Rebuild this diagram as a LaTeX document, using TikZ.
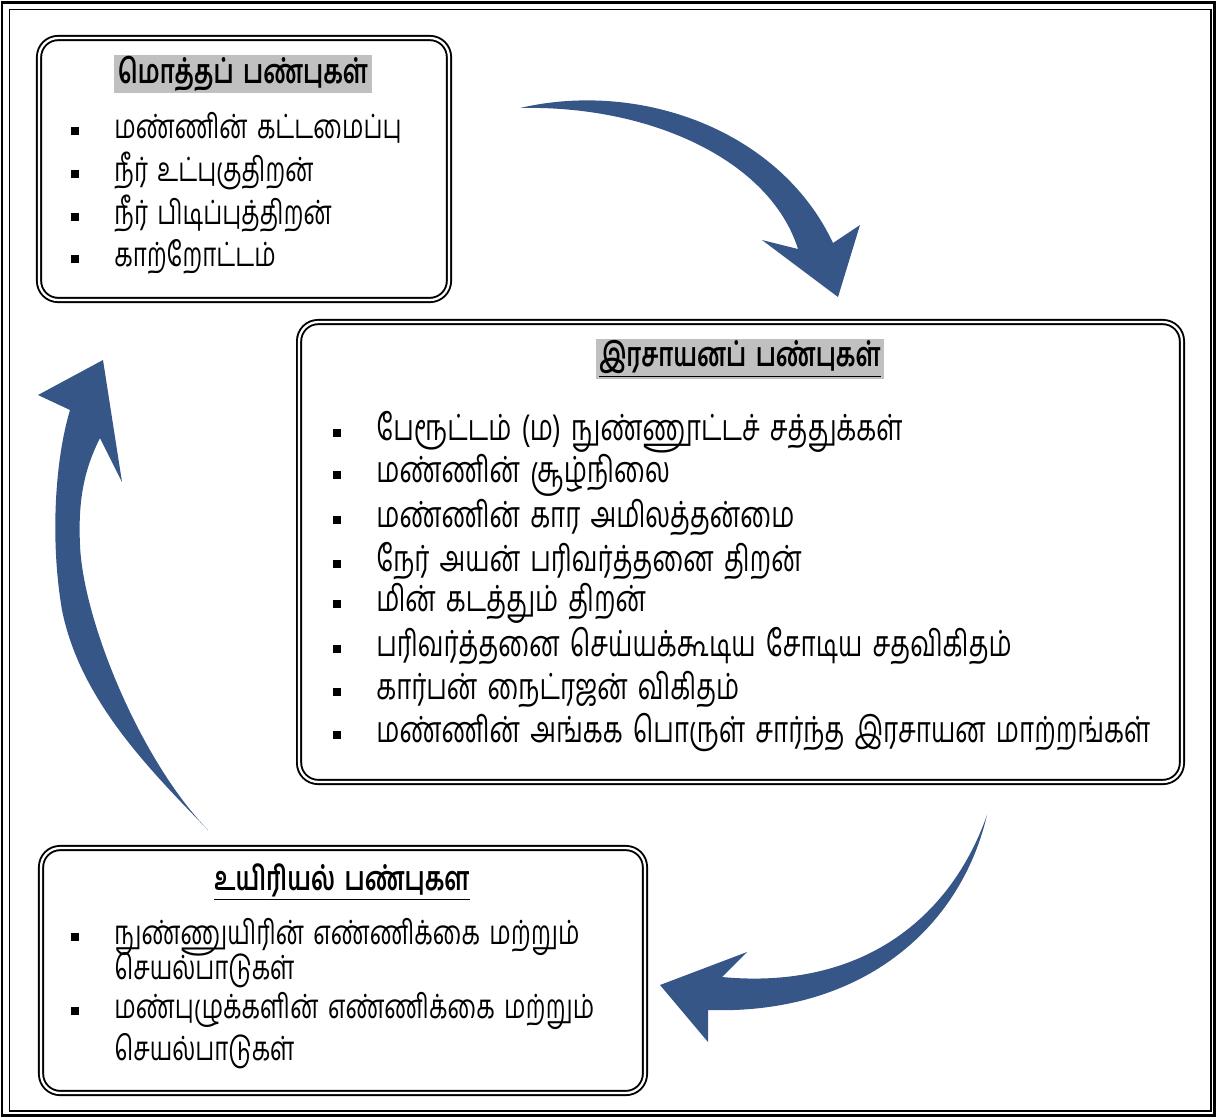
\documentclass[tikz,border=0pt]{standalone}
\usepackage{fontspec}
\setmainfont[Script=Tamil,FakeStretch=0.72,WordSpace=1.6]{Hind Madurai}
\usepackage{tikz}
\usetikzlibrary{positioning}
\definecolor{arrowblue}{RGB}{53,86,135}
\definecolor{headgray}{RGB}{192,192,192}
\tikzstyle{panel} = [rectangle, draw, double, line width=1.1pt, double distance=1.3pt, rounded corners=0.38cm, inner sep=0pt]
\tikzstyle{headbg} = [rectangle, fill=headgray, inner xsep=2pt, inner ysep=1pt, minimum height=0.7cm]
\tikzstyle{head} = [rectangle, inner sep=0pt]
\tikzstyle{item} = [anchor=west, inner sep=0pt]
\tikzstyle{bigarrow} = [fill=arrowblue, draw=none]
\newcommand{\sq}{\makebox[0.86cm][l]{\raisebox{0.07cm}{\rule{0.16cm}{0.16cm}}}}

\begin{document}
\begin{tikzpicture}[x=0.02cm, y=-0.02cm, font=\fontsize{19}{22}\selectfont]
  \useasboundingbox (0,0) rectangle (1216,1117);
  % outer frame
  \draw [line width=1.7pt] (2,2) rectangle (1214,1115);
  \draw [line width=0.8pt] (9.5,9.5) rectangle (1211,1111);

  % boxes
  \node [panel, minimum width=8.2cm, minimum height=5.24cm] (phys_box) at (244,169) {};
  \node [panel, minimum width=17.66cm, minimum height=9.2cm] (chem_box) at (740.5,552) {};
  \node [panel, minimum width=12.08cm, minimum height=4.9cm] (bio_box) at (343,970.5) {};

  % headers
  \node [headbg] (phys_head) at (243,74) {\bfseries மொத்தப் பண்புகள்};
  \node [headbg] (chem_head) at (740,359) {\bfseries\underline{இரசாயனப் பண்புகள்}};
  \node [head] (bio_head) at (342,882) {\bfseries\underline{உயிரியல் பண்புகள}};

  % items
  \foreach \txt [count=\i] in {மண்ணின் கட்டமைப்பு, நீர் உட்புகுதிறன், நீர் பிடிப்புத்திறன், காற்றோட்டம்}
    \node [item] (phys_i\i) at (71,{128+(\i-1)*43}) {\sq\txt};

  \foreach \txt [count=\i] in {பேரூட்டம் (ம) நுண்ணூட்டச் சத்துக்கள், மண்ணின் சூழ்நிலை, மண்ணின் கார அமிலத்தன்மை, நேர் அயன் பரிவர்த்தனை திறன், மின் கடத்தும் திறன், பரிவர்த்தனை செய்யக்கூடிய சோடிய சதவிகிதம், கார்பன் நைட்ரஜன் விகிதம், மண்ணின் அங்கக பொருள் சார்ந்த இரசாயன மாற்றங்கள்}
    \node [item, font=\fontsize{20.5}{24}\selectfont] (chem_i\i) at (333,{432+(\i-1)*42.9}) {\sq\txt};

  \node [item] (bio_i1) at (71,937) {\sq நுண்ணுயிரின் எண்ணிக்கை மற்றும்};
  \node [item] (bio_i1b) at (114,970) {செயல்பாடுகள்};
  \node [item] (bio_i2) at (71,1011) {\sq மண்புழுக்களின் எண்ணிக்கை மற்றும்};
  \node [item] (bio_i2b) at (114,1051) {செயல்பாடுகள்};

  % arrows
  \coordinate (a1_tail) at (520,108);
  \coordinate (a1_tip) at (838,297);
  \path [bigarrow] (a1_tail) .. controls (640,80) and (780,130) .. (833,243)
    -- (860,225) -- (a1_tip) -- (762,240) -- (798,249)
    .. controls (770,160) and (650,105) .. (a1_tail) -- cycle;

  \coordinate (a2_tail) at (987,815);
  \coordinate (a2_tip) at (660,985);
  \path [bigarrow] (a2_tail) .. controls (950,920) and (860,990) .. (722,977)
    -- (747,952) -- (a2_tip) -- (708,1042) -- (708,1010)
    .. controls (860,1015) and (960,930) .. (a2_tail) -- cycle;

  \coordinate (a3_tail) at (208,830);
  \coordinate (a3_tip) at (103,360);
  \path [bigarrow] (a3_tail) .. controls (150,770) and (80,700) .. (62,610)
    .. controls (50,540) and (55,460) .. (70,410)
    -- (38,395) -- (a3_tip) -- (122,482) -- (100,438)
    .. controls (84,470) and (78,500) .. (80,545)
    .. controls (83,620) and (140,760) .. (a3_tail) -- cycle;
\end{tikzpicture}
\end{document}
